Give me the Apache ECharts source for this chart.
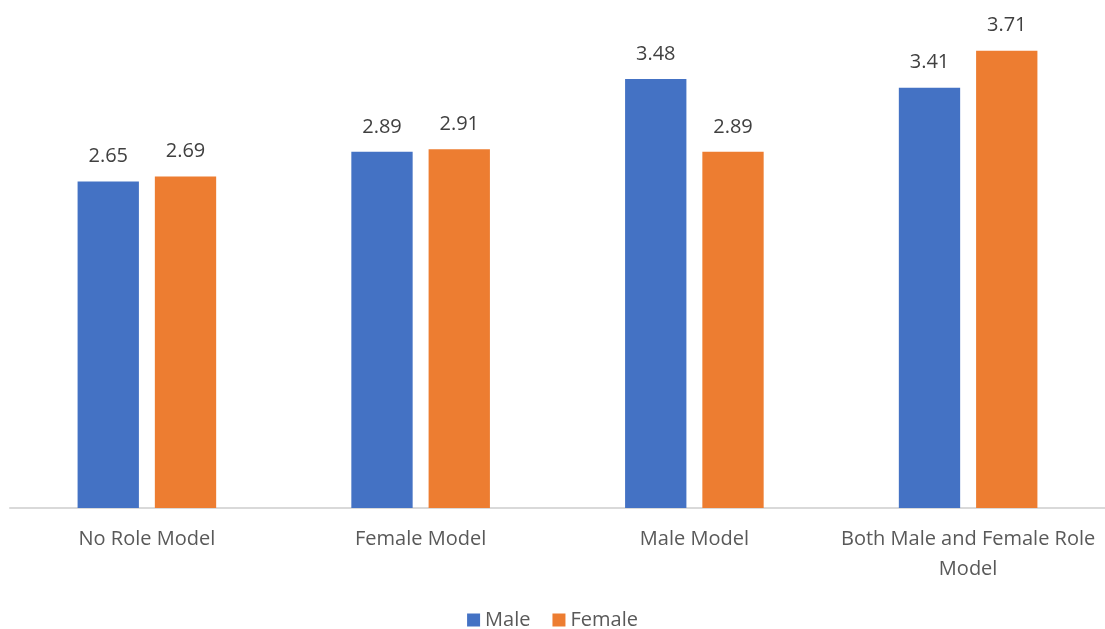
<!DOCTYPE html>
<html><head><meta charset="utf-8">
<script src="https://cdn.jsdelivr.net/npm/echarts@6/dist/echarts.min.js"></script>
<style>html,body{margin:0;padding:0;background:#fff}#c{width:1105px;height:629px}</style>
</head><body><div id="c"></div>
<script>
const categories = ['No Role Model', 'Female Model', 'Male Model', 'Both Male and Female Role\nModel'];
const maleValues = [2.65, 2.89, 3.48, 3.41];
const femaleValues = [2.69, 2.91, 2.89, 3.71];
const seriesNames = ['Male', 'Female'];

const chart = echarts.init(document.getElementById('c'));
const font = '"Open Sans", sans-serif';
const labelStyle = {show: true, position: 'top', distance: 15, color: '#404040', fontSize: 20, fontFamily: font};
chart.setOption({
  animation: false,
  textStyle: {fontFamily: font},
  legend: {
    top: 610, left: 'center', itemWidth: 13, itemHeight: 13, itemGap: 22, icon: 'rect',
    padding: 0,
    textStyle: {color: '#595959', fontSize: 20, fontFamily: font}
  },
  grid: {left: 10, right: 0, top: 15, bottom: 121},
  xAxis: {
    type: 'category', data: categories,
    axisLine: {lineStyle: {color: '#d9d9d9', width: 2}},
    axisTick: {show: false},
    axisLabel: {color: '#595959', fontSize: 20, fontFamily: font, margin: 16, lineHeight: 30, interval: 0}
  },
  yAxis: {type: 'value', min: 0, max: 4, show: false, splitLine: {show: false}},
  series: [
    {name: seriesNames[0], type: 'bar', data: maleValues, barWidth: '22.4%', barGap: '26%',
     itemStyle: {color: '#4472c4'}, label: labelStyle},
    {name: seriesNames[1], type: 'bar', data: femaleValues, barWidth: '22.4%', barGap: '26%',
     itemStyle: {color: '#ed7d31'}, label: labelStyle}
  ]
});
</script></body></html>
